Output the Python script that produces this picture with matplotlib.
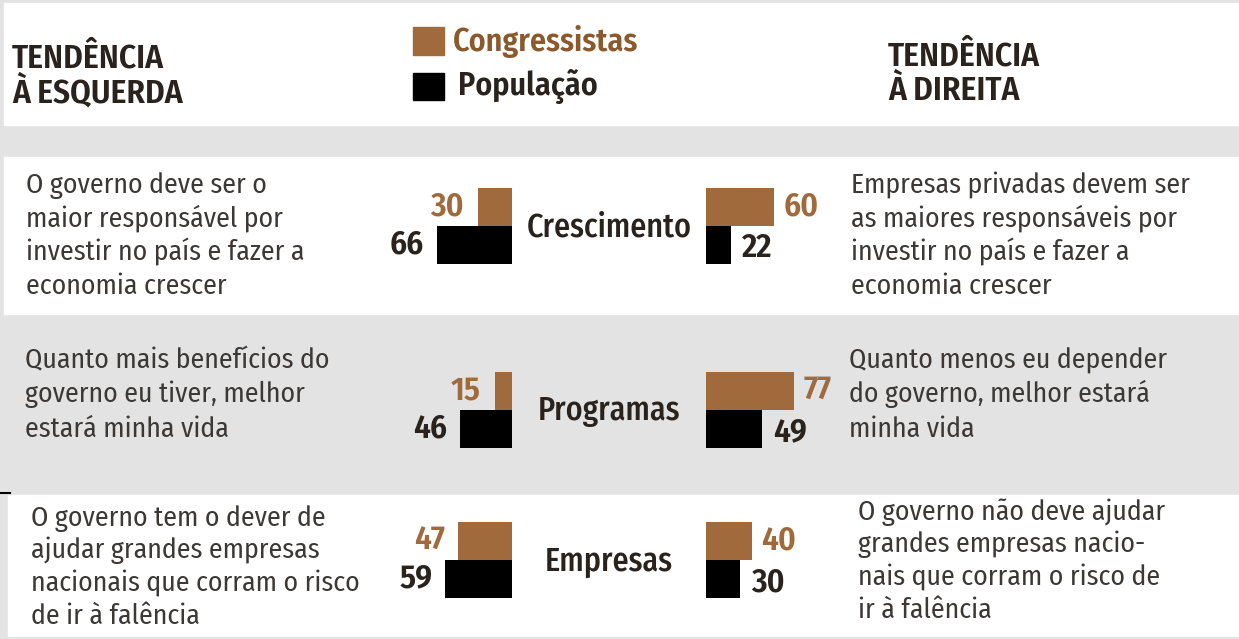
import matplotlib

matplotlib.use("Agg")
import matplotlib.pyplot as plt
from matplotlib.patches import Rectangle
from matplotlib import font_manager

# data
topics = ["Crescimento", "Programas", "Empresas"]
left_congress = [30, 15, 47]
left_population = [66, 46, 59]
right_congress = [60, 77, 40]
right_population = [22, 49, 30]

series_labels = ["Congressistas", "População"]
left_title = ["TENDÊNCIA", "À ESQUERDA"]
right_title = ["TENDÊNCIA", "À DIREITA"]

left_texts = [
    ["O governo deve ser o", "maior responsável por", "investir no país e fazer a", "economia crescer"],
    ["Quanto mais benefícios do", "governo eu tiver, melhor", "estará minha vida"],
    ["O governo tem o dever de", "ajudar grandes empresas", "nacionais que corram o risco", "de ir à falência"],
]
right_texts = [
    ["Empresas privadas devem ser", "as maiores responsáveis por", "investir no país e fazer a", "economia crescer"],
    ["Quanto menos eu depender", "do governo, melhor estará", "minha vida"],
    ["O governo não deve ajudar", "grandes empresas nacio-", "nais que corram o risco de", "ir à falência"],
]

# layout (pixels)
W, H = 1239, 639
BROWN = "#a06a3c"
BLACK = "#000000"
DARK = "#2a231d"
TEXT = "#3b3835"
GRAY = "#e3e3e3"
row_mid = [226, 410, 560]
left_text_base = [(26, 193), (25, 368), (31, 526)]
right_text_base = [(851, 193), (849, 368), (858, 520)]
line_step = [33.5, 34.5, 32.5]
BAR_H = 38
PX_PER_UNIT = 1.14
LEFT_ZERO = 512
RIGHT_ZERO = 706

avail = {f.name for f in font_manager.fontManager.ttflist}
FONT = "Fira Sans Condensed" if "Fira Sans Condensed" in avail else "DejaVu Sans"
plt.rcParams["font.family"] = [FONT, "DejaVu Sans"]

fig = plt.figure(figsize=(W / 100, H / 100), dpi=100)
bg = fig.add_axes([0, 0, 1, 1])
bg.set_xlim(0, W)
bg.set_ylim(H, 0)
bg.axis("off")

# background panels
bg.add_patch(Rectangle((0, 0), W, H, color=GRAY, zorder=0))
bg.add_patch(Rectangle((4, 3), W - 4, 122, color="white", zorder=0))
bg.add_patch(Rectangle((4, 157), W - 4, 157, color="white", zorder=0))
bg.add_patch(Rectangle((8, 495), W - 8, 141, color="white", zorder=0))
bg.plot([0, 10], [493, 493], color="black", lw=1.5)

# titles
for i, line in enumerate(left_title):
    bg.text(12, 67 + i * 35, line, fontsize=24, fontweight=600, color=DARK, va="baseline")
for i, line in enumerate(right_title):
    bg.text(888, 65 + i * 35, line, fontsize=24, fontweight=600, color=DARK, va="baseline")

# legend
bg.add_patch(Rectangle((413, 27), 31, 28, color=BROWN))
bg.add_patch(Rectangle((413, 73), 31, 27, color=BLACK))
bg.text(453, 51, series_labels[0], fontsize=23, fontweight=600, color="#8a5a2e", va="baseline")
bg.text(458, 95, series_labels[1], fontsize=23, fontweight=600, color=DARK, va="baseline")

# descriptions
for lines, (x0, y0), step in zip(left_texts, left_text_base, line_step):
    for j, line in enumerate(lines):
        bg.text(x0, y0 + j * step, line, fontsize=20, color=TEXT, va="baseline")
for lines, (x0, y0), step in zip(right_texts, right_text_base, line_step):
    for j, line in enumerate(lines):
        bg.text(x0, y0 + j * step, line, fontsize=20, color=TEXT, va="baseline")

# bars
span = 100
axl = fig.add_axes([(LEFT_ZERO - span * PX_PER_UNIT) / W, 0, span * PX_PER_UNIT / W, 1])
axr = fig.add_axes([RIGHT_ZERO / W, 0, span * PX_PER_UNIT / W, 1])
for ax in (axl, axr):
    ax.set_ylim(H, 0)
    ax.axis("off")
    ax.patch.set_alpha(0)
axl.set_xlim(span, 0)
axr.set_xlim(0, span)

yc = [m - BAR_H / 2 for m in row_mid]
yp = [m + BAR_H / 2 for m in row_mid]
axl.barh(yc, left_congress, height=BAR_H, color=BROWN)
axl.barh(yp, left_population, height=BAR_H, color=BLACK)
axr.barh(yc, right_congress, height=BAR_H, color=BROWN)
axr.barh(yp, right_population, height=BAR_H, color=BLACK)

lab = dict(fontsize=24, fontweight=600, textcoords="offset points", va="center_baseline")
for i in range(len(topics)):
    axl.annotate(str(left_congress[i]), (left_congress[i], yc[i]), xytext=(-10, 3), ha="right", color=BROWN, **lab)
    axl.annotate(str(left_population[i]), (left_population[i], yp[i]), xytext=(-9, 3), ha="right", color=DARK, **lab)
    axr.annotate(str(right_congress[i]), (right_congress[i], yc[i]), xytext=(7, 3), ha="left", color=BROWN, **lab)
    axr.annotate(str(right_population[i]), (right_population[i], yp[i]), xytext=(8, 0), ha="left", color=DARK, **lab)
    bg.text((LEFT_ZERO + RIGHT_ZERO) / 2, row_mid[i] - 2, topics[i], fontsize=23, fontweight=500,
            color=DARK, ha="center", va="center_baseline")

fig.savefig("out.png", dpi=100)
